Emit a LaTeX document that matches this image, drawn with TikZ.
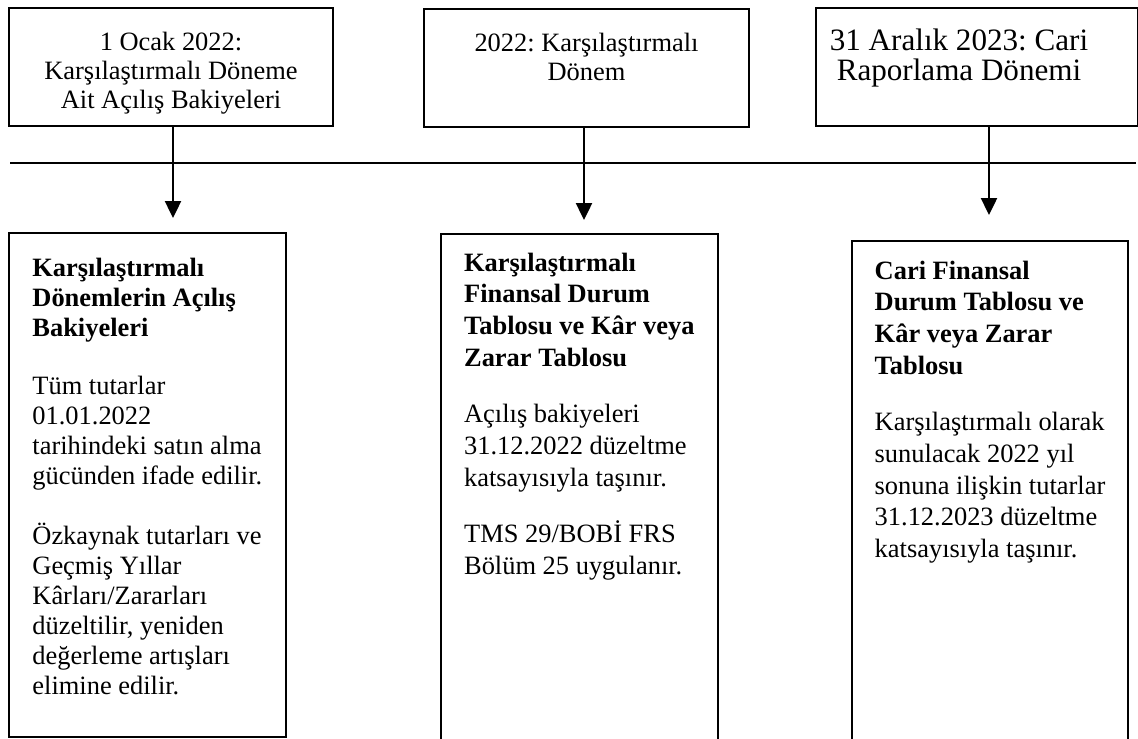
\documentclass[tikz,border=0pt]{standalone}
\usepackage{fontspec}
\setmainfont{Liberation Serif}
\frenchspacing
\usepackage{tikz}
\usetikzlibrary{arrows.meta}
\usetikzlibrary{positioning}
\tikzset{datebox/.style = {draw, line width=0.9pt, anchor=north west,
                           inner xsep=0pt, inner ysep=0pt,
                           font=\fontsize{11.9}{13}\selectfont,
                           text height=19pt, text depth=34pt}}
\tikzset{tablebox/.style = {draw, line width=0.9pt, anchor=north west,
                            inner xsep=0pt, inner ysep=0pt,
                            font=\fontsize{11.9}{14.3}\selectfont,
                            minimum width=124.5pt, text depth=240pt}}
\tikzset{timearrow/.style = {line width=0.9pt, -{Triangle[width=7.2pt, length=7.6pt]}}}

\begin{document}
\begin{tikzpicture}[x=0.45pt, y=-0.45pt]
      \useasboundingbox (0, 0) rectangle (1138, 738);
      \clip (0, 0) rectangle (1138, 738);
      % periods
      \node [datebox, minimum width=145.8pt] (top1) at (8, 7)
            {\begin{tabular}[t]{@{}c@{}}1 Ocak 2022:\\ Karşılaştırmalı Döneme\\ Ait Açılış Bakiyeleri\end{tabular}};
      \node [datebox, minimum width=146.25pt] (top2) at (423, 8)
            {\begin{tabular}[t]{@{}c@{}}2022: Karşılaştırmalı\\ Dönem\end{tabular}};
      \node [datebox, minimum width=144.9pt, font=\fontsize{14}{13}\selectfont, text height=18.9pt] (top3) at (815, 7)
            {\begin{tabular}[t]{@{}c@{\hspace{16.2pt}}}31 Aralık 2023: Cari\\ Raporlama Dönemi\end{tabular}};
      % time line
      \coordinate (lineL) at (10, 163);
      \coordinate (lineR) at (1136, 163);
      \draw [line width=0.9pt] (lineL) -- (lineR);
      % tables
      \node [tablebox, font=\fontsize{11.9}{13.5}\selectfont, text height=19.35pt, text depth=207.45pt] (tab1) at (8, 232)
            {\begin{tabular}[t]{@{}l@{}}
             \textbf{Karşılaştırmalı}\\ \textbf{Dönemlerin Açılış}\\ \textbf{Bakiyeleri}\\[13pt]
             Tüm tutarlar\\ 01.01.2022\\ tarihindeki satın alma\\ gücünden ifade edilir.\\[13pt]
             Özkaynak tutarları ve\\ Geçmiş Yıllar\\ Kârları/Zararları\\ düzeltilir, yeniden\\
             değerleme artışları\\ elimine edilir.
             \end{tabular}};
      \node [tablebox, text height=16.65pt] (tab2) at (440, 233)
            {\begin{tabular}[t]{@{}l@{}}
             \textbf{Karşılaştırmalı}\\ \textbf{Finansal Durum}\\ \textbf{Tablosu ve Kâr veya}\\ \textbf{Zarar Tablosu}\\[11pt]
             Açılış bakiyeleri\\ 31.12.2022 düzeltme\\ katsayısıyla taşınır.\\[11pt]
             TMS 29/BOBİ FRS\\ Bölüm 25 uygulanır.
             \end{tabular}};
      \node [tablebox, minimum width=124.2pt, text height=17.1pt] (tab3) at (851, 240)
            {\begin{tabular}[t]{@{}l@{}}
             \textbf{Cari Finansal}\\ \textbf{Durum Tablosu ve}\\ \textbf{Kâr veya Zarar}\\ \textbf{Tablosu}\\[11pt]
             Karşılaştırmalı olarak\\ sunulacak 2022 yıl\\ sonuna ilişkin tutarlar\\ 31.12.2023 düzeltme\\
             katsayısıyla taşınır.
             \end{tabular}};
      % arrows
      \coordinate (tip1) at (173, 218);
      \coordinate (tip2) at (584, 220);
      \coordinate (tip3) at (989, 215);
      \draw [timearrow] (top1.south -| tip1) -- (tip1);
      \draw [timearrow] (top2.south -| tip2) -- (tip2);
      \draw [timearrow] (top3.south -| tip3) -- (tip3);
\end{tikzpicture}
\end{document}
